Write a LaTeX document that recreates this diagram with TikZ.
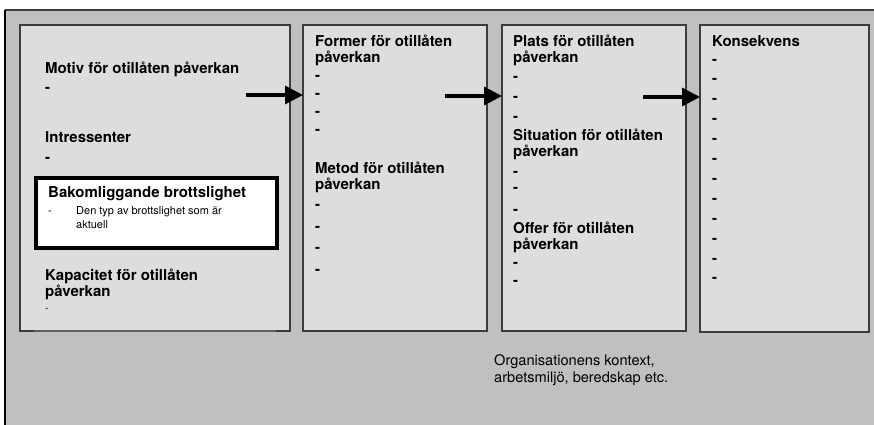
\documentclass[tikz,border=0pt]{standalone}
\usepackage{fontspec}
\setmainfont{TeX Gyre Heros}
\usetikzlibrary{arrows.meta}
\definecolor{bgcol}{HTML}{C0C0C0}
\definecolor{boxcol}{HTML}{DDDDDD}
\definecolor{edgecol}{HTML}{3C3C3C}
\tikzset{
  panel/.style={draw=edgecol, line width=1.3pt, fill=boxcol, anchor=north west, inner sep=0pt, outer sep=0pt},
  hd/.style={anchor=base west, inner sep=0pt, font=\fontsize{15}{17}\selectfont\bfseries},
  ds/.style={anchor=base west, inner sep=0pt, font=\fontsize{15}{17}\selectfont\bfseries},
  sm/.style={anchor=base west, inner sep=0pt, font=\fontsize{11}{13}\selectfont},
  tiny/.style={anchor=base west, inner sep=0pt, font=\fontsize{10}{12}\selectfont},
  ctx/.style={anchor=base west, inner sep=0pt, font=\fontsize{14.6}{17}\selectfont},
  flow/.style={line width=3.3pt, -{Triangle[length=18pt,width=18pt]}, shorten >=0pt}
}
\begin{document}
\begin{tikzpicture}[x=1pt,y=-1pt]
\useasboundingbox (0,0) rectangle (874,424);
\begin{scope}
\clip (0,0) rectangle (874,424);
\fill[bgcol] (5,10) rectangle (890,440);
\draw[edgecol, line width=1.5pt] (5,10) -- (890,10);
\draw[black, line width=2pt] (5,10) -- (5,440);
\end{scope}
% panels
\node[panel, minimum width=270pt, minimum height=306pt] (b1) at (20,25) {};
\node[panel, minimum width=184pt, minimum height=306pt] (b2) at (303,25) {};
\node[panel, minimum width=184pt, minimum height=306pt] (b3) at (502,25) {};
\node[panel, minimum width=169pt, minimum height=307pt] (b4) at (700,25) {};
\draw[gray!75!black, line width=1.3pt] ([xshift=14pt]b1.south west) -- ([xshift=-14pt]b1.south east);
% box 1
\node[hd] (t11) at (45,73) {Motiv för otillåten påverkan};
\node[ds] (d11) at (45,92.5) {-};
\node[hd] (t12) at (45,142) {Intressenter};
\node[ds] (d12) at (45,162) {-};
\node[draw=black, fill=white, line width=4pt, minimum width=240.5pt, minimum height=70.3pt, anchor=north west, inner sep=0pt] (wb) at (34,176) {};
\node[hd] (t13) at (48,197) {Bakomliggande brottslighet};
\node[sm] (d13) at (48,214) {-};
\node[sm] (t14) at (76,214) {Den typ av brottslighet som är};
\node[sm] (t15) at (76,228) {aktuell};
\node[hd] (t16) at (45,280) {Kapacitet för otillåten};
\node[hd] (t17) at (45,296) {påverkan};
\node[tiny] (d14) at (45,311) {-};
% box 2
\node[hd] (t21) at (315,46) {Former för otillåten};
\node[hd] (t22) at (315,62) {påverkan};
\foreach \y [count=\i] in {80,98,116,134} \node[ds] (d2a\i) at (315,\y) {-};
\node[hd] (t23) at (315,173) {Metod för otillåten};
\node[hd] (t24) at (315,189) {påverkan};
\foreach \y [count=\i] in {209,231,252,274} \node[ds] (d2b\i) at (315,\y) {-};
% box 3
\node[hd] (t31) at (513,46) {Plats för otillåten};
\node[hd] (t32) at (513,62) {påverkan};
\foreach \y [count=\i] in {81,101,121} \node[ds] (d3a\i) at (513,\y) {-};
\node[hd] (t33) at (513,140) {Situation för otillåten};
\node[hd] (t34) at (513,156) {påverkan};
\foreach \y [count=\i] in {176,192,214} \node[ds] (d3b\i) at (513,\y) {-};
\node[hd] (t35) at (513,233) {Offer för otillåten};
\node[hd] (t36) at (513,249) {påverkan};
\foreach \y [count=\i] in {267.5,285} \node[ds] (d3c\i) at (513,\y) {-};
% box 4
\node[hd] (t41) at (712,46) {Konsekvens};
\foreach \i in {0,...,11} \node[ds] (d4\i) at (712,{64+19.9*\i}) {-};
% context
\node[ctx] (c1) at (494,365) {Organisationens kontext,};
\node[ctx] (c2) at (494,382) {arbetsmiljö, beredskap etc.};
% arrows
\coordinate (a1) at (246,95);
\coordinate (a2) at (445,96);
\coordinate (a3) at (643,97);
\draw[flow] (a1) -- (a1 -| b2.west);
\draw[flow] (a2) -- (a2 -| b3.west);
\draw[flow] (a3) -- (a3 -| b4.west);
\end{tikzpicture}
\end{document}
